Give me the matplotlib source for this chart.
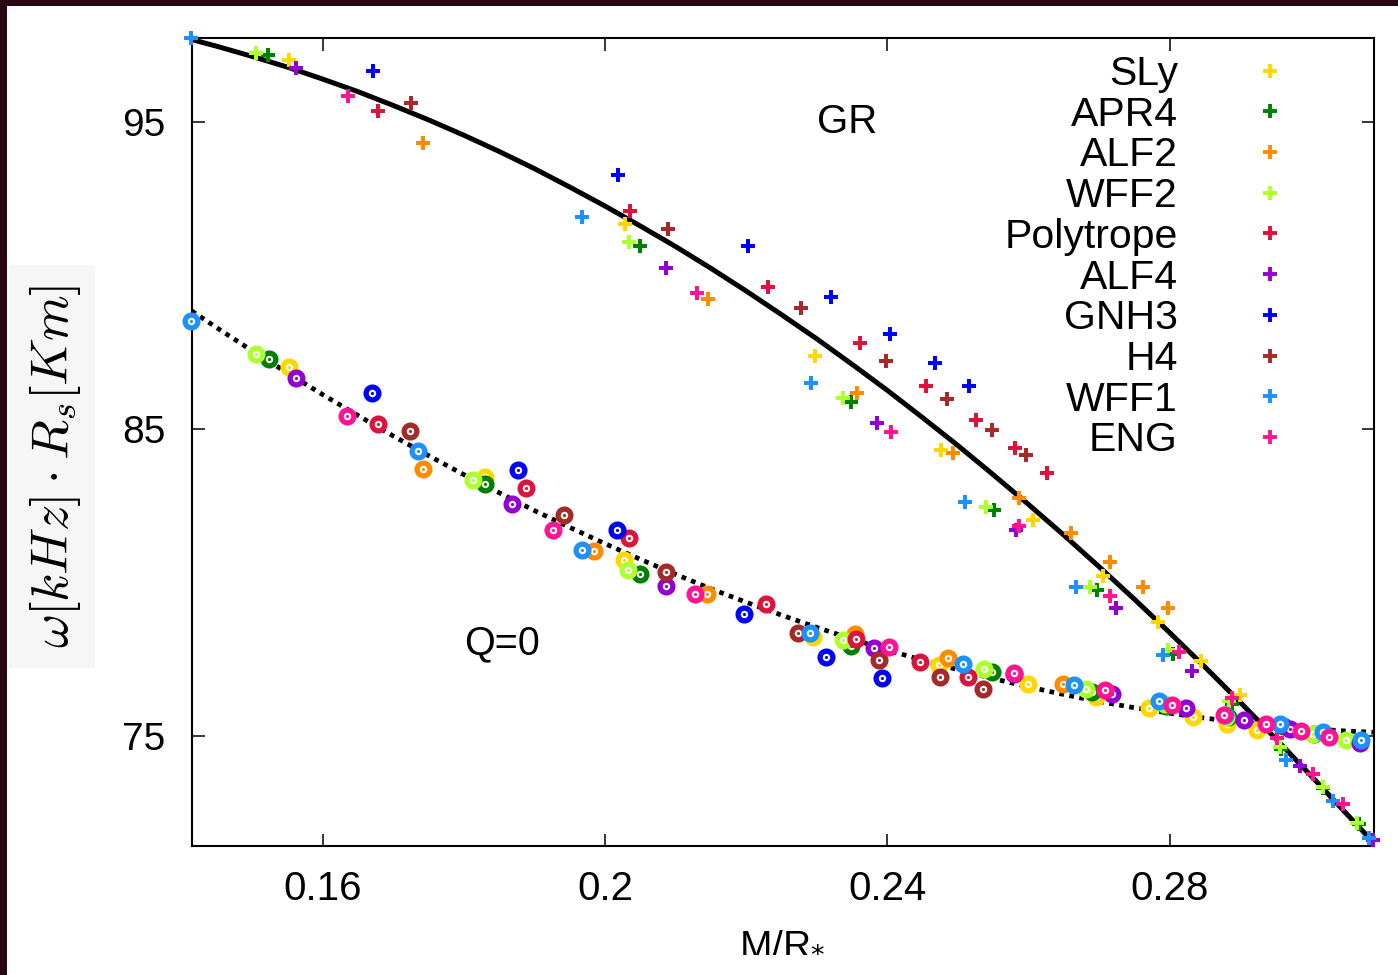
import matplotlib
matplotlib.use("Agg")
import matplotlib.pyplot as plt
from matplotlib.lines import Line2D
from matplotlib.patches import Rectangle

plt.rcParams['font.family'] = ['Liberation Sans', 'DejaVu Sans']

# ---------------------------------------------------------------- data
eos_names = ["SLy", "APR4", "ALF2", "WFF2", "Polytrope",
             "ALF4", "GNH3", "H4", "WFF1", "ENG"]
eos_colors = ["#ffd700", "#008000", "#ff8c00", "#adff2f", "#dc143c",
              "#9400d3", "#0000ff", "#a52a2a", "#1e90ff", "#ff1493"]

# GR branch (crosses): compactness M/R and omega*R_s
sly_gr_x = [0.1552, 0.2028, 0.2298, 0.2476, 0.2606, 0.2705, 0.2783, 0.2845, 0.2900]
sly_gr_y = [97.03, 91.68, 87.37, 84.32, 82.03, 80.21, 78.72, 77.44, 76.33]
apr4_gr_x = [0.1523, 0.2049, 0.2349, 0.2551, 0.2697, 0.2805, 0.2888, 0.2958, 0.3017, 0.3068]
apr4_gr_y = [97.19, 90.97, 85.89, 82.36, 79.75, 77.66, 76.03, 74.57, 73.29, 72.12]
alf2_gr_x = [0.1742, 0.2146, 0.2357, 0.2493, 0.2587, 0.2660, 0.2715, 0.2762, 0.2798]
alf2_gr_y = [94.33, 89.24, 86.18, 84.21, 82.74, 81.60, 80.65, 79.84, 79.17]
wff2_gr_x = [0.1506, 0.2034, 0.2337, 0.2540, 0.2687, 0.2798, 0.2884, 0.2956, 0.3017, 0.3066]
wff2_gr_y = [97.25, 91.11, 86.00, 82.47, 79.84, 77.79, 76.13, 74.63, 73.32, 72.16]
poly_gr_x = [0.1678, 0.2035, 0.2231, 0.2361, 0.2455, 0.2525, 0.2581, 0.2626]
poly_gr_y = [95.37, 92.11, 89.62, 87.79, 86.41, 85.29, 84.37, 83.58]
alf4_gr_x = [0.1562, 0.2087, 0.2385, 0.2582, 0.2724, 0.2832, 0.2985, 0.3088]
alf4_gr_y = [96.78, 90.26, 85.19, 81.71, 79.17, 77.12, 74.01, 71.60]
gnh3_gr_x = [0.1671, 0.2018, 0.2203, 0.2320, 0.2404, 0.2467, 0.2516]
gnh3_gr_y = [96.68, 93.28, 90.96, 89.31, 88.11, 87.16, 86.41]
h4_gr_x = [0.1725, 0.2089, 0.2278, 0.2398, 0.2484, 0.2548, 0.2597]
h4_gr_y = [95.64, 91.52, 88.96, 87.23, 85.97, 84.97, 84.15]
wff1_gr_x = [0.1414, 0.1968, 0.2292, 0.2510, 0.2668, 0.2791, 0.2965, 0.3031, 0.3083]
wff1_gr_y = [97.76, 91.92, 86.49, 82.63, 79.83, 77.63, 74.21, 72.87, 71.65]
eng_gr_x = [0.1636, 0.2130, 0.2405, 0.2586, 0.2715, 0.2814, 0.2889, 0.2952, 0.3003, 0.3045]
eng_gr_y = [95.86, 89.45, 84.91, 81.84, 79.56, 77.74, 76.22, 74.92, 73.75, 72.77]

# Q=0 branch (rings)
sly_q0_x = [0.1552, 0.1830, 0.2027, 0.2295, 0.2473, 0.2600, 0.2696, 0.2771, 0.2833, 0.2882, 0.2924]
sly_q0_y = [87.01, 83.44, 80.73, 78.23, 77.29, 76.69, 76.26, 75.90, 75.61, 75.37, 75.17]
apr4_q0_x = [0.1524, 0.1830, 0.2049, 0.2348, 0.2548, 0.2690, 0.2795, 0.2883, 0.2960, 0.3005]
apr4_q0_y = [87.27, 83.20, 80.26, 77.92, 77.07, 76.43, 75.98, 75.60, 75.30, 75.05]
alf2_q0_x = [0.1742, 0.1984, 0.2145, 0.2354, 0.2486, 0.2649]
alf2_q0_y = [83.71, 81.03, 79.62, 78.32, 77.53, 76.68]
wff2_q0_x = [0.1506, 0.1813, 0.2033, 0.2337, 0.2537, 0.2681, 0.2793, 0.2880, 0.3003, 0.3050]
wff2_q0_y = [87.45, 83.34, 80.39, 78.11, 77.17, 76.53, 76.03, 75.62, 75.06, 74.85]
poly_q0_x = [0.1678, 0.1888, 0.2034, 0.2228, 0.2356, 0.2446, 0.2515]
poly_q0_y = [85.16, 83.07, 81.44, 79.30, 78.14, 77.40, 76.92]
alf4_q0_x = [0.1562, 0.1868, 0.2086, 0.2381, 0.2579, 0.2719, 0.2823, 0.2906, 0.2971, 0.3070]
alf4_q0_y = [86.65, 82.55, 79.88, 77.86, 77.00, 76.35, 75.89, 75.51, 75.22, 74.76]
gnh3_q0_x = [0.1670, 0.1877, 0.2017, 0.2197, 0.2313, 0.2392]
gnh3_q0_y = [86.18, 83.66, 81.71, 78.97, 77.57, 76.87]
h4_q0_x = [0.1724, 0.1942, 0.2086, 0.2273, 0.2388, 0.2474, 0.2536]
h4_q0_y = [84.93, 82.20, 80.35, 78.35, 77.45, 76.90, 76.51]
wff1_q0_x = [0.1414, 0.1735, 0.1967, 0.2291, 0.2507, 0.2665, 0.2785, 0.2878, 0.2956, 0.3017, 0.3071]
wff1_q0_y = [88.53, 84.29, 81.05, 78.35, 77.33, 76.65, 76.14, 75.67, 75.39, 75.13, 74.85]
eng_q0_x = [0.1635, 0.1926, 0.2128, 0.2402, 0.2580, 0.2708, 0.2803, 0.2877, 0.2937, 0.2986, 0.3026]
eng_q0_y = [85.42, 81.71, 79.61, 77.88, 77.03, 76.48, 76.01, 75.68, 75.39, 75.16, 74.97]

# fitted curves, sampled along M/R
fit_x = [0.14144, 0.145, 0.150, 0.155, 0.160, 0.165, 0.170, 0.175, 0.180, 0.185,
         0.190, 0.195, 0.200, 0.205, 0.210, 0.215, 0.220, 0.225, 0.230, 0.235,
         0.240, 0.245, 0.250, 0.255, 0.260, 0.265, 0.270, 0.275, 0.280, 0.285,
         0.290, 0.295, 0.300, 0.305, 0.30889]
gr_fit_y = [97.70, 97.48, 97.15, 96.80, 96.41, 96.00, 95.55, 95.08, 94.58, 94.05,
            93.49, 92.89, 92.27, 91.62, 90.95, 90.24, 89.50, 88.73, 87.94, 87.11,
            86.26, 85.37, 84.46, 83.51, 82.54, 81.54, 80.51, 79.45, 78.36, 77.24,
            76.09, 74.91, 73.70, 72.47, 71.51]
q0_fit_y = [88.85, 88.30, 87.55, 86.83, 86.12, 85.44, 84.77, 84.13, 83.51, 82.92,
            82.34, 81.79, 81.26, 80.75, 80.26, 79.79, 79.35, 78.93, 78.53, 78.15,
            77.79, 77.46, 77.15, 76.86, 76.59, 76.34, 76.11, 75.91, 75.73, 75.57,
            75.43, 75.32, 75.22, 75.15, 75.11]

x_ticks = [0.16, 0.2, 0.24, 0.28]
x_tick_labels = ["0.16", "0.2", "0.24", "0.28"]
y_ticks = [75, 85, 95]
y_tick_labels = ["75", "85", "95"]

gr_series = [(sly_gr_x, sly_gr_y), (apr4_gr_x, apr4_gr_y), (alf2_gr_x, alf2_gr_y),
             (wff2_gr_x, wff2_gr_y), (poly_gr_x, poly_gr_y), (alf4_gr_x, alf4_gr_y),
             (gnh3_gr_x, gnh3_gr_y), (h4_gr_x, h4_gr_y), (wff1_gr_x, wff1_gr_y),
             (eng_gr_x, eng_gr_y)]
q0_series = [(sly_q0_x, sly_q0_y), (apr4_q0_x, apr4_q0_y), (alf2_q0_x, alf2_q0_y),
             (wff2_q0_x, wff2_q0_y), (poly_q0_x, poly_q0_y), (alf4_q0_x, alf4_q0_y),
             (gnh3_q0_x, gnh3_q0_y), (h4_q0_x, h4_q0_y), (wff1_q0_x, wff1_q0_y),
             (eng_q0_x, eng_q0_y)]

# ---------------------------------------------------------------- figure
W, H = 1398, 975
fig = plt.figure(figsize=(W / 100, H / 100), dpi=100)
fig.patch.set_facecolor("white")

# dark frame on the top and left edges
frame_col = "#2a0612"
fig.patches.append(Rectangle((0, 0), 7 / W, 1, transform=fig.transFigure,
                             facecolor=frame_col, edgecolor="none", zorder=0))
fig.patches.append(Rectangle((0, 1 - 6 / H), 1, 6 / H, transform=fig.transFigure,
                             facecolor=frame_col, edgecolor="none", zorder=0))
# light panel behind the y label
fig.patches.append(Rectangle((9 / W, 1 - 668 / H), 86 / W, 403 / H,
                             transform=fig.transFigure, facecolor="#f6f6f6",
                             edgecolor="none", zorder=0))

ax_l, ax_r, ax_t, ax_b = 191.7, 1373.5, 38.3, 846.0
ax = fig.add_axes([ax_l / W, 1 - ax_b / H, (ax_r - ax_l) / W, (ax_b - ax_t) / H])
ax.set_xlim(0.14144, 0.30889)
ax.set_ylim(71.40, 97.74)

ax.plot(fit_x, gr_fit_y, color="black", lw=3.6, solid_capstyle="butt",
        solid_joinstyle="round", zorder=2)
ax.plot(fit_x, q0_fit_y, color="black", lw=3.4, linestyle=(0, (1.0, 1.15)),
        dash_capstyle="butt", zorder=2)

for (gx, gy), col in zip(gr_series, eos_colors):
    ax.plot(gx, gy, ls="none", marker="+", ms=10.5, mew=2.9, color=col,
            clip_on=False, zorder=3)

for (qx, qy), col in zip(q0_series, eos_colors):
    ax.plot(qx, qy, ls="none", marker="o", ms=9.2, mfc="white", mec=col,
            mew=3.8, clip_on=False, zorder=3)
    ax.plot(qx, qy, ls="none", marker="o", ms=2.3, mfc=col, mec="none",
            clip_on=False, zorder=3)

ax.set_xticks(x_ticks)
ax.set_xticklabels(x_tick_labels)
ax.set_yticks(y_ticks)
ax.set_yticklabels(y_tick_labels)
ax.tick_params(axis="both", direction="in", top=True, right=True,
               length=9, width=1.1, labelsize=28, color="black")
ax.tick_params(axis="y", pad=19)
ax.tick_params(axis="x", pad=17, labelsize=29)
for sp in ax.spines.values():
    sp.set_linewidth(1.5)

ax.set_xlabel(r"M/R$_{*}$", fontsize=28)
ax.xaxis.set_label_coords(0.5, -0.097)

fig.text(55 / W, 1 - 466 / H, r"$\omega[kHz]\cdot R_s[Km]$", rotation=90,
         ha="center", va="center", fontsize=37.5, math_fontfamily="cm")

# curve labels
ax.text(0.2343, 95.0, "GR", fontsize=29, ha="center", va="center")
ax.text(0.1854, 78.0, "Q=0", fontsize=28.5, ha="center", va="center")

handles = [Line2D([], [], ls="none", marker="+", ms=10, mew=2.8, color=c)
           for c in eos_colors]
leg = ax.legend(handles, eos_names, loc="upper right",
                bbox_to_anchor=(1311 / W, 1 - 55 / H),
                bbox_transform=fig.transFigure, frameon=False,
                markerfirst=False, handlelength=2.0, handletextpad=1.25,
                labelspacing=0.066, borderpad=0, borderaxespad=0,
                fontsize=29.5)

fig.savefig("out.png", dpi=100)
